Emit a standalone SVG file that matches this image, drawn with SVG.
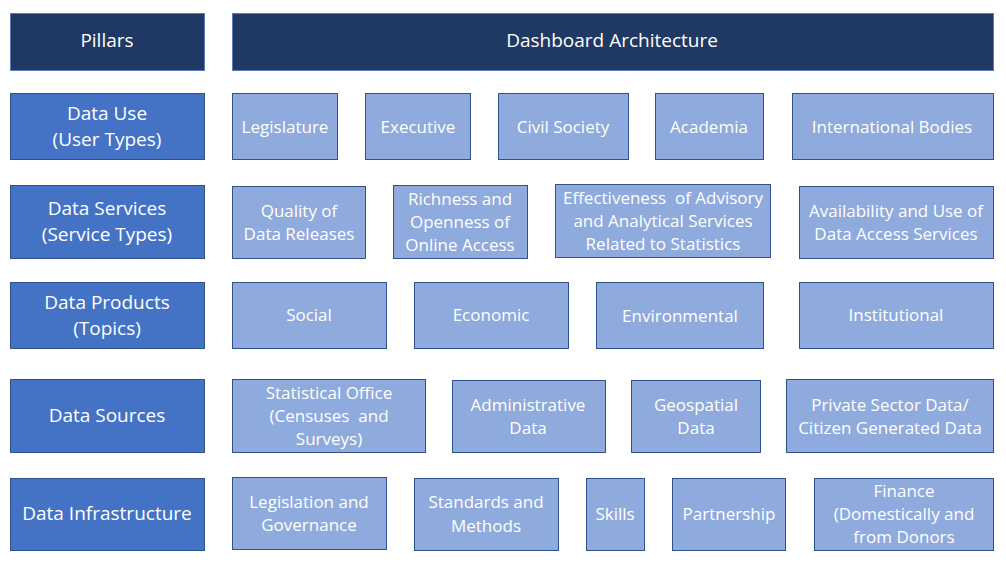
<svg xmlns="http://www.w3.org/2000/svg" width="1006" height="562" viewBox="0 0 1006 562">
<style>
.hd{fill:#203864;stroke:#5a7bbf;stroke-width:1}
.pl{fill:#4472C4;stroke:#2F528F;stroke-width:1}
.it{fill:#8FAADC;stroke:#2F528F;stroke-width:1}
text{font-family:"Open Sans",Lato,sans-serif;fill:#ffffff;text-anchor:middle;white-space:pre}
.t18{font-size:19px}
.t16{font-size:17px}
</style>
<rect width="1006" height="562" fill="#ffffff"/>
<g id="pillars"><rect class="hd" x="10.5" y="13.5" width="194" height="57"/><text class="t18" x="107" y="47">Pillars</text></g>
<g id="dashboard"><rect class="hd" x="232.5" y="13.5" width="761" height="57"/><text class="t18" x="612" y="47">Dashboard Architecture</text></g>

<g id="data-use"><rect class="pl" x="10.5" y="93.5" width="194" height="66"/><text class="t18" x="107" y="120">Data Use</text><text class="t18" x="107" y="146">(User Types)</text></g>
<g id="legislature"><rect class="it" x="232.5" y="93.5" width="105" height="66"/><text class="t16" x="285" y="133">Legislature</text></g>
<g id="executive"><rect class="it" x="365.5" y="93.5" width="105" height="66"/><text class="t16" x="418" y="133">Executive</text></g>
<g id="civil-society"><rect class="it" x="498.5" y="93.5" width="130" height="66"/><text class="t16" x="563" y="133">Civil Society</text></g>
<g id="academia"><rect class="it" x="655.5" y="93.5" width="108" height="66"/><text class="t16" x="709" y="133">Academia</text></g>
<g id="international-bodies"><rect class="it" x="792.5" y="93.5" width="201" height="66"/><text class="t16" x="892" y="133">International Bodies</text></g>

<g id="data-services"><rect class="pl" x="10.5" y="185.5" width="194" height="73"/><text class="t18" x="107" y="215">Data Services</text><text class="t18" x="107" y="241">(Service Types)</text></g>
<g id="quality"><rect class="it" x="232.5" y="186.5" width="133" height="72"/><text class="t16" x="299" y="217">Quality of</text><text class="t16" x="299" y="240">Data Releases</text></g>
<g id="richness"><rect class="it" x="393.5" y="185.5" width="134" height="73"/><text class="t16" x="460" y="205">Richness and</text><text class="t16" x="460" y="228">Openness of</text><text class="t16" x="460" y="251">Online Access</text></g>
<g id="effectiveness"><rect class="it" x="555.5" y="184.5" width="215" height="73"/><text class="t16" x="663" y="204">Effectiveness  of Advisory</text><text class="t16" x="663" y="227">and Analytical Services</text><text class="t16" x="663" y="250">Related to Statistics</text></g>
<g id="availability"><rect class="it" x="799.5" y="186.5" width="194" height="72"/><text class="t16" x="896" y="217">Availability and Use of</text><text class="t16" x="896" y="240">Data Access Services</text></g>

<g id="data-products"><rect class="pl" x="10.5" y="282.5" width="194" height="66"/><text class="t18" x="107" y="309">Data Products</text><text class="t18" x="107" y="335">(Topics)</text></g>
<g id="social"><rect class="it" x="232.5" y="282.5" width="154" height="66"/><text class="t16" x="309" y="321">Social</text></g>
<g id="economic"><rect class="it" x="414.5" y="282.5" width="154" height="66"/><text class="t16" x="491" y="321">Economic</text></g>
<g id="environmental"><rect class="it" x="596.5" y="282.5" width="167" height="66"/><text class="t16" x="680" y="322">Environmental</text></g>
<g id="institutional"><rect class="it" x="799.5" y="282.5" width="194" height="66"/><text class="t16" x="896" y="321">Institutional</text></g>

<g id="data-sources"><rect class="pl" x="10.5" y="379.5" width="194" height="73"/><text class="t18" x="107" y="422">Data Sources</text></g>
<g id="statistical-office"><rect class="it" x="232.5" y="379.5" width="193" height="73"/><text class="t16" x="329" y="399">Statistical Office</text><text class="t16" x="329" y="422">(Censuses  and</text><text class="t16" x="329" y="445">Surveys)</text></g>
<g id="administrative"><rect class="it" x="452.5" y="380.5" width="153" height="72"/><text class="t16" x="528" y="411">Administrative</text><text class="t16" x="528" y="434">Data</text></g>
<g id="geospatial"><rect class="it" x="631.5" y="380.5" width="129" height="72"/><text class="t16" x="696" y="411">Geospatial</text><text class="t16" x="696" y="434">Data</text></g>
<g id="private-sector"><rect class="it" x="786.5" y="379.5" width="207" height="73"/><text class="t16" x="890" y="411">Private Sector Data/</text><text class="t16" x="890" y="434">Citizen Generated Data</text></g>

<g id="data-infrastructure"><rect class="pl" x="10.5" y="478.5" width="194" height="72"/><text class="t18" x="107" y="520">Data Infrastructure</text></g>
<g id="legislation"><rect class="it" x="232.5" y="477.5" width="154" height="72"/><text class="t16" x="309" y="508">Legislation and</text><text class="t16" x="309" y="531">Governance</text></g>
<g id="standards"><rect class="it" x="414.5" y="478.5" width="144" height="72"/><text class="t16" x="486" y="508">Standards and</text><text class="t16" x="486" y="532">Methods</text></g>
<g id="skills"><rect class="it" x="586.5" y="478.5" width="58" height="72"/><text class="t16" x="615" y="520">Skills</text></g>
<g id="partnership"><rect class="it" x="672.5" y="478.5" width="113" height="72"/><text class="t16" x="729" y="520">Partnership</text></g>
<g id="finance"><rect class="it" x="814.5" y="478.5" width="179" height="72"/><text class="t16" x="904" y="497">Finance</text><text class="t16" x="904" y="520">(Domestically and</text><text class="t16" x="904" y="543">from Donors</text></g>
<g id="connectors"></g>
</svg>
